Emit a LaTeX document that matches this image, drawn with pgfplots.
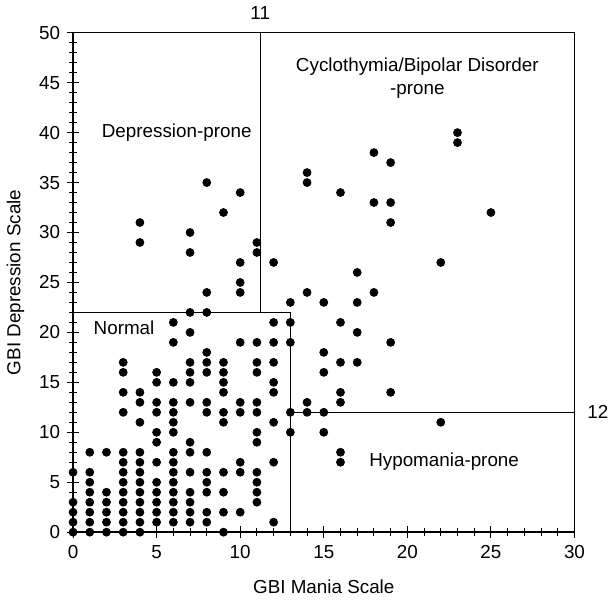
\documentclass[border=0pt]{standalone}
\usepackage{fontspec}
\setmainfont{Liberation Sans}
\usepackage{pgfplots}
\pgfplotsset{compat=1.18}

\begin{document}
\begin{tikzpicture}
\begin{axis}[
  scale only axis,
  width=253pt, height=252pt,
  xmin=0, xmax=30, ymin=0, ymax=50,
  xtick={0,5,...,30}, ytick={0,5,...,50},
  minor x tick num=4, minor y tick num=4,
  tick align=center,
  tick pos=left,
  major tick length=6pt, minor tick length=4pt,
  axis line style={line width=0.75pt},
  every tick/.style={black, line width=0.55pt},
  font=\fontsize{9.5}{11}\selectfont,
  /pgf/number format/assume math mode=true,
  xlabel={GBI Mania Scale}, ylabel={GBI Depression Scale},
  xlabel style={at={(axis description cs:0.5,-0.11)}, anchor=center},
  ylabel style={at={(axis description cs:-0.115,0.5)}, anchor=center},
  clip=false,
]
% region borders
\addplot[black, line width=0.75pt, no marks] coordinates {(0,22) (13,22) (13,0)};
\addplot[black, line width=0.75pt, no marks] coordinates {(11.2,22) (11.2,50)};
\addplot[black, line width=0.75pt, no marks] coordinates {(13,12) (30,12)};

% subjects (mania, depression)
\addplot[only marks, mark=*, mark size=2pt, black] coordinates {
  (0,0) (0,1) (0,2) (0,3) (0,6)
  (1,0) (1,1) (1,2) (1,3) (1,4) (1,5) (1,6) (1,8)
  (2,0) (2,1) (2,2) (2,3) (2,4) (2,8)
  (3,0) (3,1) (3,2) (3,3) (3,4) (3,5) (3,6) (3,7) (3,8) (3,12) (3,14) (3,16) (3,17)
  (4,0) (4,1) (4,2) (4,3) (4,4) (4,5) (4,6) (4,7) (4,8) (4,11) (4,13) (4,14) (4,29) (4,31)
  (5,1) (5,2) (5,3) (5,4) (5,5) (5,7) (5,9) (5,10) (5,12) (5,13) (5,15) (5,16)
  (6,1) (6,2) (6,3) (6,4) (6,5) (6,6) (6,7) (6,8) (6,10) (6,11) (6,12) (6,13) (6,15) (6,19) (6,21)
  (7,1) (7,2) (7,3) (7,4) (7,6) (7,8) (7,9) (7,13) (7,15) (7,16) (7,17) (7,20) (7,22) (7,28) (7,30)
  (8,1) (8,2) (8,4) (8,5) (8,6) (8,8) (8,12) (8,13) (8,16) (8,17) (8,18) (8,22) (8,24) (8,35)
  (9,0) (9,2) (9,4) (9,6) (9,11) (9,12) (9,14) (9,15) (9,16) (9,17) (9,32)
  (10,2) (10,6) (10,7) (10,12) (10,13) (10,19) (10,24) (10,25) (10,27) (10,34)
  (11,3) (11,4) (11,5) (11,6) (11,9) (11,10) (11,12) (11,13) (11,16) (11,17) (11,19) (11,28) (11,29)
  (12,1) (12,7) (12,11) (12,14) (12,15) (12,17) (12,19) (12,21) (12,27)
  (13,10) (13,12) (13,19) (13,21) (13,23)
  (14,12) (14,13) (14,24) (14,35) (14,36)
  (15,10) (15,12) (15,16) (15,18) (15,23)
  (16,7) (16,8) (16,13) (16,14) (16,17) (16,21) (16,34)
  (17,17) (17,20) (17,23) (17,26)
  (18,24) (18,33) (18,38)
  (19,14) (19,19) (19,31) (19,33) (19,37)
  (22,11) (22,27)
  (23,39) (23,40)
  (25,32)
};

\node at (axis cs:6.2,40) {Depression-prone};
\node at (axis cs:20.6,46.6) {Cyclothymia/Bipolar Disorder};
\node at (axis cs:20.6,44.1) {-prone};
\node at (axis cs:3.05,20.5) {Normal};
\node at (axis cs:22.2,7.1) {Hypomania-prone};
\node[anchor=south, yshift=3pt] at (axis cs:11.2,50) {11};
\node[anchor=west, xshift=3pt] at (axis cs:30,12) {12};
\end{axis}
\path ([xshift=-36pt,yshift=-35pt]current axis.south west) rectangle ([xshift=18.5pt,yshift=16.5pt]current axis.north east);
\end{tikzpicture}
\end{document}
